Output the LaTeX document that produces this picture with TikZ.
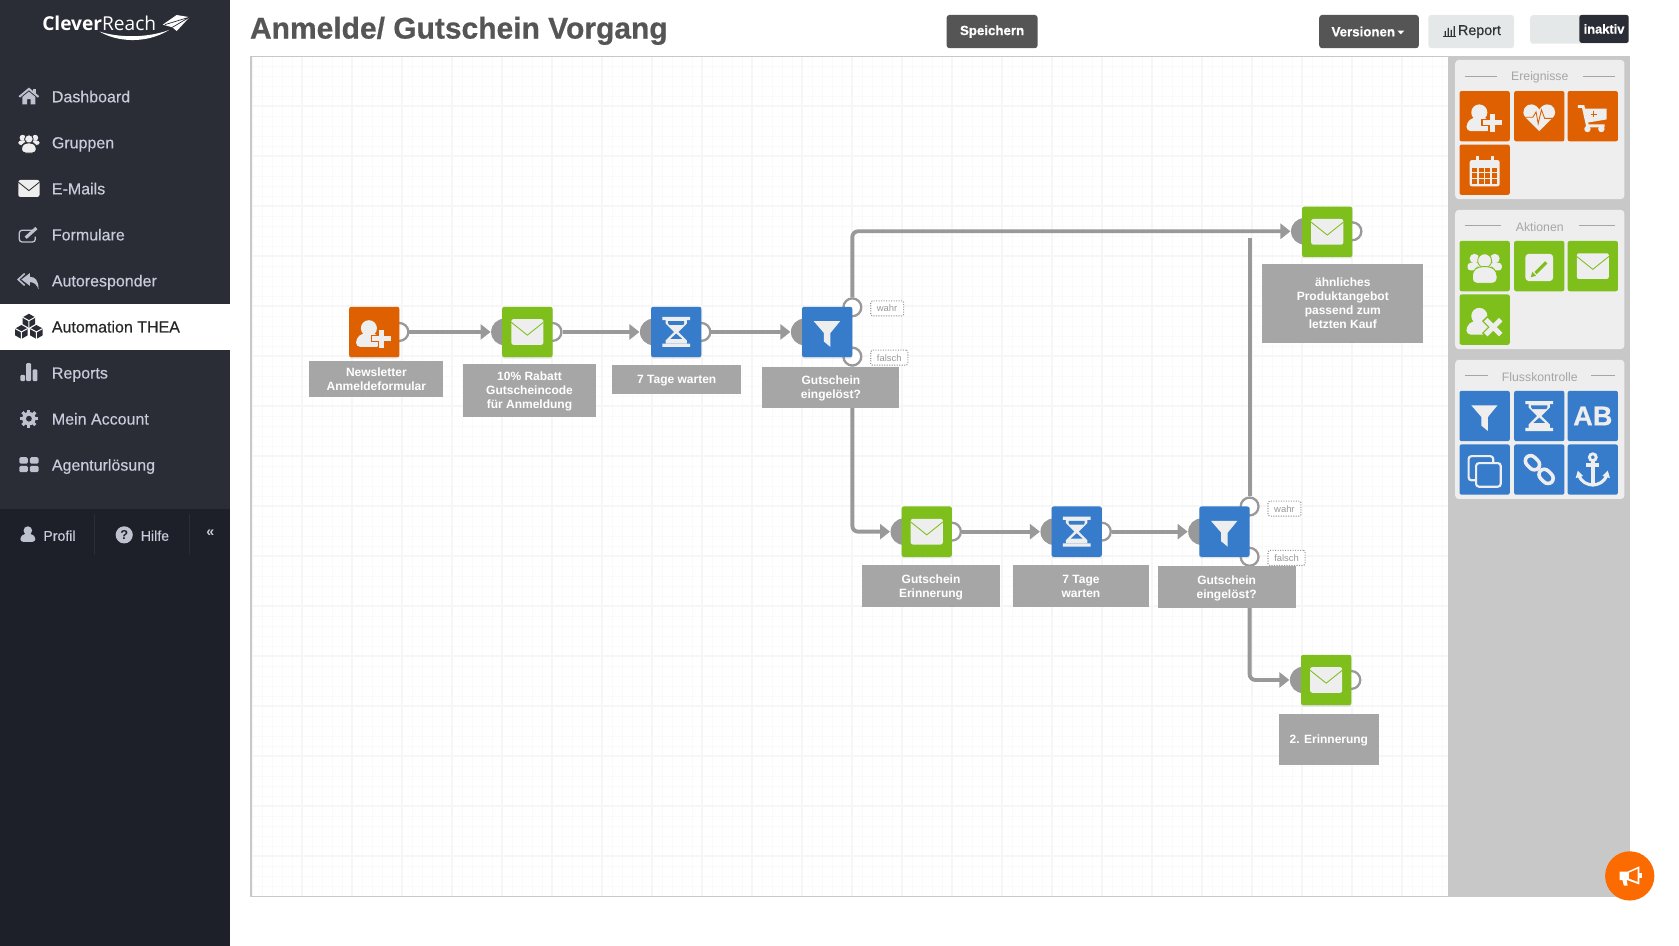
\documentclass[tikz,border=0pt]{standalone}
\usepackage{fontspec}
\setmainfont{Liberation Sans}
\newfontfamily\logofont{Open Sans}
\newfontfamily\menufont[FakeBold=0.35]{Liberation Sans}
\newfontfamily\heavyfont[FakeBold=0.6,UprightFont=* Bold]{Liberation Sans}
\usetikzlibrary{arrows.meta,shadows}

\definecolor{tileOrange}{RGB}{222,96,0}
\definecolor{bubbleOrange}{RGB}{251,107,0}
\definecolor{tileGreen}{RGB}{126,191,27}
\definecolor{tileBlue}{RGB}{55,124,203}
\definecolor{iconWhite}{RGB}{238,238,238}
\definecolor{sideDark}{RGB}{42,45,53}
\definecolor{sideDarker}{RGB}{30,32,41}
\definecolor{menuText}{RGB}{200,204,218}
\definecolor{menuIcon}{RGB}{190,194,206}
\definecolor{flowGrey}{RGB}{153,153,153}
\definecolor{labelGrey}{RGB}{166,166,166}
\definecolor{panelGrey}{RGB}{200,200,200}
\definecolor{buttonDark}{RGB}{85,85,85}
\definecolor{buttonLight}{RGB}{228,232,232}

\tikzset{every picture/.style={line width=0.75pt}}
\tikzset{
  every pic/.style={yscale=-1},
  tile/.style={rectangle,rounded corners=1.5pt,minimum size=35.25pt,inner sep=0pt},
  flowtile/.style={tile,drop shadow={shadow xshift=0pt,shadow yshift=-1pt,opacity=0.2}},
  labelbox/.style 2 args={rectangle,fill=labelGrey,text=white,align=center,inner sep=0pt,
    minimum width=#1*0.75pt,minimum height=#2*0.75pt,text depth=0pt,
    font=\fontsize{8.4}{9.8}\selectfont\bfseries},
  inport/.style={circle,fill=flowGrey,minimum size=18.5pt,inner sep=0pt},
  outport/.style={circle,draw=flowGrey,line width=1.6pt,fill=white,minimum size=12.5pt,inner sep=0pt},
  flow/.style={draw=flowGrey,line width=2.7pt,rounded corners=4pt},
  flowtip/.style={-{Triangle[length=7pt,width=10.5pt]}},
  tag/.style={rectangle,draw=flowGrey,densely dotted,rounded corners=1pt,fill=white,text=flowGrey,
    inner sep=0pt,minimum height=10.5pt,font=\fontsize{6.6}{8}\selectfont},
  menuitem/.style={anchor=base west,inner sep=0pt,text=menuText,font=\menufont\fontsize{11.2}{13}\selectfont},
  button/.style={rectangle,rounded corners=2pt,inner sep=0pt,minimum height=23.25pt,font=\heavyfont\fontsize{9.3}{11}\selectfont},
  paneltitle/.style={inner sep=0pt,text=labelGrey,font=\fontsize{8.6}{10}\selectfont},
  panelrule/.style={draw=labelGrey,line width=0.7pt},
}
\tikzset{
  mailicon/.pic={
    \fill[iconWhite,rounded corners=1.5pt] (-15,-12) rectangle (15,12);
    \draw[#1,line width=0.6pt] (-15,-9) -- (0,3) -- (15,-9);
  },
  useradd/.pic={
    \fill[iconWhite] (-5,-3.5) circle (7.5);
    \fill[iconWhite,rounded corners=3pt] (-17,14) -- (-17,6) -- (-11,1) -- (1,1) -- (6,6) -- (6,14) -- cycle;
    \draw[#1,line width=5.2pt] (-3,6) -- (16,6) (7,-3) -- (7,15);
    \draw[iconWhite,line width=3.6pt] (-2,6) -- (16,6) (7,-2) -- (7,15);
  },
  userdel/.pic={
    \fill[iconWhite] (-5,-3.5) circle (7.5);
    \fill[iconWhite,rounded corners=3pt] (-17,14) -- (-17,6) -- (-11,1) -- (1,1) -- (6,6) -- (6,14) -- cycle;
    \draw[#1,line width=5.2pt] (0,-1) -- (16,15) (16,-1) -- (0,15);
    \draw[iconWhite,line width=3.4pt] (1,0) -- (15,14) (15,0) -- (1,14);
  },
  hearticon/.pic={
    \fill[iconWhite] (0,14) -- (-13,1) .. controls (-18,-5) and (-12,-12) .. (-7,-11) .. controls (-4,-11) and (-1,-8) .. (0,-6) .. controls (1,-8) and (4,-11) .. (7,-11) .. controls (12,-12) and (18,-5) .. (13,1) -- cycle;
    \draw[#1,line width=0.6pt] (-15,1) -- (-6,1) -- (-3,-4) -- (-1,7) -- (2,-6) -- (5,2) -- (15,2);
  },
  carticon/.pic={
    \fill[iconWhite] (-9,-7) -- (13,-7) -- (13,3) -- (-5,6) -- cycle;
    \draw[iconWhite,line width=2pt] (-14,-9) -- (-9,-9) -- (-5,9) -- (11,9);
    \fill[iconWhite] (-5,12) circle (3) (8,12) circle (3);
    \draw[#1,line width=0.7pt] (-2,-2) -- (4,-2) (1,-5) -- (1,1);
  },
  calicon/.pic={
    \fill[iconWhite,rounded corners=1.5pt] (-14,-9) rectangle (14,15.5);
    \draw[iconWhite,line width=2pt] (-7,-12.5) -- (-7,-7) (7,-12.5) -- (7,-7);
    \foreach \cx in {-11.5,-5.5,0.5,6.5}
      \foreach \cy in {-2,3.5,9}
        \fill[#1] (\cx,\cy) rectangle ++(4.6,4.2);
  },
  groupicon/.pic={
    \fill[iconWhite] (-9.5,-7) circle (4.5) (9.5,-7) circle (4.5);
    \fill[iconWhite,rounded corners=2pt] (-16,4) -- (-16,-3) -- (16,-3) -- (16,4) -- cycle;
    \draw[#1,line width=0.6pt,fill=iconWhite] (0,-5) circle (6.5);
    \draw[#1,line width=0.6pt,fill=iconWhite,rounded corners=3pt] (-11.5,16) -- (-11.5,5) -- (-6,0.5) -- (6,0.5) -- (11.5,5) -- (11.5,16) -- cycle;
  },
  editicon/.pic={
    \fill[iconWhite,rounded corners=2.5pt] (-13,-11.5) rectangle (13,14);
    \draw[#1,line width=2.2pt] (-3.5,6.5) -- (6.5,-3.5);
    \fill[#1] (-8,10.5) -- (-6.5,5.5) -- (-3,9) -- cycle;
  },
  filtericon/.pic={
    \fill[iconWhite] (-12.5,-10) -- (12,-10) -- (3,1) -- (3,14) -- (-3,9) -- (-3,1) -- cycle;
  },
  houricon/.pic={
    \fill[iconWhite] (-13,-14) rectangle (13,-11) (-13,11) rectangle (13,14);
    \fill[iconWhite] (-10,-11) -- (10,-11) -- (10,-8) -- (2,0) -- (10,8) -- (10,11) -- (-10,11) -- (-10,8) -- (-2,0) -- (-10,-8) -- cycle;
    \fill[#1] (-7.5,-10) -- (7.5,-10) -- (7.5,-8) -- (6.5,-6.5) -- (-6.5,-6.5) -- (-7.5,-8) -- cycle;
    \fill[#1] (0,1.5) -- (-5.5,6.5) -- (5.5,6.5) -- cycle;
  },
  copyicon/.pic={
    \draw[iconWhite,line width=1.5pt,rounded corners=2pt] (-15,-12.5) rectangle (8,10);
    \draw[iconWhite,line width=1.5pt,rounded corners=2pt,fill=#1] (-8,-6) rectangle (15,16);
  },
  linkicon/.pic={
    \draw[iconWhite,line width=2.5pt,rounded corners=4pt,rotate=45] (-16.5,-5) rectangle (-1.5,5);
    \draw[iconWhite,line width=2.5pt,rounded corners=4pt,rotate=45] (1.5,-5) rectangle (16.5,5);
  },
  anchoricon/.pic={
    \draw[iconWhite,line width=2pt] (0,-11.5) circle (3.2);
    \draw[iconWhite,line width=2.6pt] (0,-8) -- (0,14) (-6,-4) -- (6,-4);
    \draw[iconWhite,line width=2.2pt] (-13,5) .. controls (-11,12) and (-5,14) .. (0,14.5) .. controls (5,14) and (11,12) .. (13,5);
    \fill[iconWhite] (-16,8) -- (-14,1) -- (-9,6) -- cycle (16,8) -- (14,1) -- (9,6) -- cycle;
  },
  homeicon/.pic={
    \draw[menuIcon,line width=1.4pt] (-9,0.5) -- (0,-7) -- (9,0.5);
    \fill[menuIcon] (-6,0.5) -- (0,-4.5) -- (6,0.5) -- (6,7.5) -- (1.7,7.5) -- (1.7,2.5) -- (-1.7,2.5) -- (-1.7,7.5) -- (-6,7.5) -- cycle;
    \fill[menuIcon] (4,-7) rectangle (6.5,-3);
  },
  editmenu/.pic={
    \draw[menuIcon,line width=0.9pt,rounded corners=2pt] (4,-4) -- (-9,-4) -- (-9,7) -- (6,7) -- (6,2);
    \draw[menuIcon,line width=2.2pt] (-3,3) -- (7,-6);
  },
  replyicon/.pic={
    \draw[menuIcon,line width=1.1pt] (-4,-6.5) -- (-10,-1) -- (-4,4.5);
    \fill[menuIcon] (-7,-1) -- (1,-7) -- (1,-3.5) .. controls (6,-3.5) and (9,0) .. (9,8) .. controls (7,3) and (4,1.5) .. (1,1.5) -- (1,5) -- cycle;
  },
  cubeone/.pic={
    \fill[sideDark] (0,-6.5) -- (5.8,-3.2) -- (5.8,3.2) -- (0,6.5) -- (-5.8,3.2) -- (-5.8,-3.2) -- cycle;
    \draw[white,line width=0.7pt] (-5.8,-3.2) -- (0,0) -- (5.8,-3.2) (0,0) -- (0,6.5);
  },
  cubesicon/.pic={
    \pic at (0,-5.5) {cubeone};
    \pic at (-7,5) {cubeone};
    \pic at (7,5) {cubeone};
  },
  barsicon/.pic={
    \fill[menuIcon,rounded corners=0.8pt] (-8,2) rectangle (-3.5,8) (-2.5,-9) rectangle (2,8) (3.5,-3) rectangle (8,8);
  },
  cogicon/.pic={
    \foreach \ang in {0,45,90,135,180,225,270,315}
      \draw[menuIcon,line width=2.2pt] (0,0) -- (\ang:8.5);
    \fill[menuIcon] (0,0) circle (6.3);
    \fill[sideDark] (0,0) circle (2.7);
  },
  thicon/.pic={
    \fill[menuIcon,rounded corners=1pt] (-9,-7) rectangle (-1,-1) (1,-7) rectangle (9,-1) (-9,1) rectangle (-1,7) (1,1) rectangle (9,7);
  },
  profilicon/.pic={
    \fill[menuIcon] (0,-3.5) circle (4);
    \fill[menuIcon,rounded corners=2pt] (-7,7) -- (-7,2) -- (-3,-0.5) -- (3,-0.5) -- (7,2) -- (7,7) -- cycle;
  },
  megaphone/.pic={
    \fill[white] (-9.5,-4) -- (-2,-4) -- (9,-9) -- (9,8) -- (-2,4) -- (-9.5,4) -- cycle;
    \fill[white] (-7,3) -- (-3,3) -- (-2,9) -- (-5.5,9) -- cycle;
    \fill[#1] (-0.5,-3) -- (7.3,-6.5) -- (7.3,5.5) -- (-0.5,2.5) -- cycle;
    \fill[white] (9,-2.5) rectangle (11,1.5);
  },
}

\begin{document}
\begin{tikzpicture}[x=0.75pt,y=0.75pt,yscale=-1,xscale=1]
\useasboundingbox (0,0) rectangle (1568,883);
\fill[white] (0,0) rectangle (1568,883);

%Shape: Sidebar
\fill[sideDark] (0,0) rectangle (215,475);
\fill[sideDarker] (0,475) rectangle (215,883);
\fill[white] (0,284) rectangle (215,327);
\draw[sideDark] (88,480) -- (88,518);
\draw[sideDark] (177,480) -- (177,518);

%Shape: Logo
\draw (39,22) node (logoText) [anchor=west,inner sep=0pt,text=white,font=\logofont\fontsize{13.4}{15}\selectfont] {\textbf{Clever}Reach};
\fill[white] (93,29.5) .. controls (108,38.5) and (135,42) .. (158,28) .. controls (136,36) and (110,35) .. (93,29.5) -- cycle;
\fill[white] (152,23) -- (165,14) -- (177,16) -- (165,29) -- (161,25.5) -- cycle;
\draw[sideDark,line width=0.5pt] (154,23) -- (177,16) -- (161,25.5);

%Shape: Menu icons
\path (27,90) pic {homeicon};
\path (27,133) pic[scale=0.62] {groupicon=sideDark};
\path (27,176) pic[scale=0.66] {mailicon=sideDark};
\path (27,219) pic {editmenu};
\path (27,262) pic {replyicon};
\path (27,305) pic {cubesicon};
\path (27,348) pic {barsicon};
\path (27,391) pic {cogicon};
\path (27,434) pic {thicon};
\path (26,499) pic {profilicon};

% Text Node
\draw (48,95.5) node (menuDashboard) [menuitem] {Dashboard};
% Text Node
\draw (48,138.5) node (menuGruppen) [menuitem] {Gruppen};
% Text Node
\draw (48,181.5) node (menuMails) [menuitem] {E-Mails};
% Text Node
\draw (48,224.5) node (menuFormulare) [menuitem] {Formulare};
% Text Node
\draw (48,267.5) node (menuAutoresponder) [menuitem] {Autoresponder};
% Text Node
\draw (48,310.5) node (menuAutomation) [menuitem,text=black!85] {Automation THEA};
% Text Node
\draw (48,353.5) node (menuReports) [menuitem] {Reports};
% Text Node
\draw (48,396.5) node (menuAccount) [menuitem] {Mein Account};
% Text Node
\draw (48,439.5) node (menuAgentur) [menuitem] {Agenturlösung};
% Text Node
\draw (40,505) node (menuProfil) [menuitem,font=\menufont\fontsize{9.9}{12}\selectfont] {Profil};
% Text Node
\draw (116,499.5) node (helpDot) [circle,fill=menuIcon,minimum size=12pt,inner sep=0pt,text=sideDarker,font=\fontsize{9}{10}\selectfont\bfseries] {?};
% Text Node
\draw (131,505) node (menuHilfe) [menuitem,font=\menufont\fontsize{9.9}{12}\selectfont] {Hilfe};
% Text Node
\draw (196.5,498) node (menuCollapse) [inner sep=0pt,text=menuText,font=\fontsize{10}{12}\selectfont\bfseries] {«};

% Text Node
\draw (233,36) node (pageTitle) [anchor=base west,inner sep=0pt,text=buttonDark,font=\heavyfont\fontsize{21}{24}\selectfont] {Anmelde/ Gutschein Vorgang};

%Shape: Top buttons
\draw (926.5,29.5) node (saveButton) [button,fill=buttonDark,text=white,minimum width=63.75pt] {Speichern};
\draw (1278.5,29.5) node (versionButton) [button,fill=buttonDark,text=white,minimum width=69.75pt] {Versionen\kern8pt};
\fill[white] (1305,28.5) -- (1311.5,28.5) -- (1308.2,32) -- cycle;
\draw (1374,29.5) node (reportButton) [button,fill=buttonLight,text=black!80,minimum width=60pt,font=\menufont\fontsize{10}{12}\selectfont] {\hspace{11.5pt}Report};
\draw[black!80,line width=0.6pt] (1348,34) -- (1360,34);
\fill[black!80] (1349,29) rectangle (1350.3,33.4) (1351.8,26) rectangle (1353.1,33.4) (1354.6,28) rectangle (1355.9,33.4) (1357.4,24.5) rectangle (1358.7,33.4);
\draw (1475,27.5) node (toggleBase) [rectangle,fill=buttonLight,rounded corners=2pt,inner sep=0pt,minimum width=69pt,minimum height=20pt] {};
\draw (1498,27) node (inactiveFlag) [rectangle,fill=sideDark,rounded corners=1.5pt,inner sep=0pt,minimum width=34.5pt,minimum height=19.5pt,text=white,font=\heavyfont\fontsize{9}{11}\selectfont] {inaktiv};

%Shape: Canvas with grid
\begin{scope}[shift={(282,99)}]
\draw[black!2,line width=0.6pt,step=7.005pt] (-47,-46) grid (1070,738);
\draw[black!3.5,line width=1pt,step=35.025pt] (-47,-46) grid (1070,738);
\end{scope}
\fill[panelGrey] (1352,52) rectangle (1522,837);
\draw[panelGrey,line width=1pt] (234.5,52.5) rectangle (1522,837);

%Shape: Palette panels
\fill[iconWhite,rounded corners=2.5pt] (1359,56) rectangle (1517,186);
\fill[iconWhite,rounded corners=2.5pt] (1359,196) rectangle (1517,326);
\fill[iconWhite,rounded corners=2.5pt] (1359,336) rectangle (1517,466);
\draw[panelrule] (1368,71) -- (1398,71);
\draw[panelrule] (1478,71) -- (1508,71);
\draw[panelrule] (1368,211) -- (1402,211);
\draw[panelrule] (1475,211) -- (1508,211);
\draw[panelrule] (1368,351) -- (1390,351);
\draw[panelrule] (1486,351) -- (1508,351);
% Text Node
\draw (1438,72.5) node (titleEreignisse) [paneltitle] {Ereignisse};
% Text Node
\draw (1438,212) node (titleAktionen) [paneltitle] {Aktionen};
% Text Node
\draw (1438,352) node (titleFluss) [paneltitle] {Flusskontrolle};

%Shape: Palette tiles
\draw (1386.5,108.5) node (palSignup) [tile,fill=tileOrange] {} pic {useradd=tileOrange};
\draw (1437.5,108.5) node (palHeart) [tile,fill=tileOrange] {} pic {hearticon=tileOrange};
\draw (1487.5,108.5) node (palCart) [tile,fill=tileOrange] {} pic {carticon=tileOrange};
\draw (1386.5,158.5) node (palDate) [tile,fill=tileOrange] {} pic {calicon=tileOrange};
\draw (1386.5,248.5) node (palGroup) [tile,fill=tileGreen] {} pic {groupicon=tileGreen};
\draw (1437.5,248.5) node (palEdit) [tile,fill=tileGreen] {} pic {editicon=tileGreen};
\draw (1487.5,248.5) node (palMail) [tile,fill=tileGreen] {} pic {mailicon=tileGreen};
\draw (1386.5,298.5) node (palRemove) [tile,fill=tileGreen] {} pic {userdel=tileGreen};
\draw (1386.5,388.5) node (palFilter) [tile,fill=tileBlue] {} pic {filtericon=tileBlue};
\draw (1437.5,388.5) node (palWait) [tile,fill=tileBlue] {} pic {houricon=tileBlue};
\draw (1487.5,388.5) node (palSplit) [tile,fill=tileBlue,text=iconWhite,font=\heavyfont\fontsize{19}{20}\selectfont] {AB};
\draw (1386.5,438.5) node (palCopy) [tile,fill=tileBlue] {} pic {copyicon=tileBlue};
\draw (1437.5,438.5) node (palLink) [tile,fill=tileBlue] {} pic {linkicon=tileBlue};
\draw (1487.5,438.5) node (palAnchor) [tile,fill=tileBlue] {} pic {anchoricon=tileBlue};

%Shape: Ports of the flow
\draw (373,310) node (signupOut) [outport] {};
\draw (471,310) node (couponIn) [inport] {};
\draw (516,310) node (couponOut) [outport] {};
\draw (610,310) node (waitIn) [inport] {};
\draw (655,310) node (waitOut) [outport] {};
\draw (751,310) node (checkIn) [inport] {};
\draw (796,287) node (checkYes) [outport] {};
\draw (796,333) node (checkNo) [outport] {};
\draw (1218,216) node (offerIn) [inport] {};
\draw (1263,216) node (offerOut) [outport] {};
\draw (844,496.5) node (remindIn) [inport] {};
\draw (889,496.5) node (remindOut) [outport] {};
\draw (984,496.5) node (waitTwoIn) [inport] {};
\draw (1029,496.5) node (waitTwoOut) [outport] {};
\draw (1122,496.5) node (checkTwoIn) [inport] {};
\draw (1167,473) node (checkTwoYes) [outport] {};
\draw (1167,520) node (checkTwoNo) [outport] {};
\draw (1217,635) node (lastIn) [inport] {};
\draw (1262,635) node (lastOut) [outport] {};
\coordinate (offerJoin) at (1167,222);

%Straight Lines
\draw [flow,flowtip] (signupOut) -- (couponIn);
\draw [flow,flowtip] (couponOut) -- (waitIn);
\draw [flow,flowtip] (waitOut) -- (checkIn);
\draw [flow,flowtip] (checkYes) |- (offerIn);
\draw [flow,flowtip] (checkNo) |- (remindIn);
\draw [flow,flowtip] (remindOut) -- (waitTwoIn);
\draw [flow,flowtip] (waitTwoOut) -- (checkTwoIn);
\draw [flow] (checkTwoYes) -- (offerJoin);
\draw [flow,flowtip] (checkTwoNo) |- (lastIn);

%Shape: Flow tiles
\draw (349.5,310) node (signupTile) [flowtile,fill=tileOrange] {} pic {useradd=tileOrange};
\draw (492.5,310) node (couponTile) [flowtile,fill=tileGreen] {} pic {mailicon=tileGreen};
\draw (631.5,310) node (waitTile) [flowtile,fill=tileBlue] {} pic {houricon=tileBlue};
\draw (772.5,310) node (checkTile) [flowtile,fill=tileBlue] {} pic {filtericon=tileBlue};
\draw (1239.5,216.5) node (offerTile) [flowtile,fill=tileGreen] {} pic {mailicon=tileGreen};
\draw (865.5,496.5) node (remindTile) [flowtile,fill=tileGreen] {} pic {mailicon=tileGreen};
\draw (1005.5,496.5) node (waitTwoTile) [flowtile,fill=tileBlue] {} pic {houricon=tileBlue};
\draw (1143.5,496.5) node (checkTwoTile) [flowtile,fill=tileBlue] {} pic {filtericon=tileBlue};
\draw (1238.5,635) node (lastTile) [flowtile,fill=tileGreen] {} pic {mailicon=tileGreen};

% Text Node
\draw (351.5,354) node (signupLabel) [labelbox={125}{34}] {Newsletter\\Anmeldeformular};
% Text Node
\draw (494.5,364.5) node (couponLabel) [labelbox={125}{49}] {10\% Rabatt\\Gutscheincode\\für Anmeldung};
% Text Node
\draw (632,354.5) node (waitLabel) [labelbox={120}{27}] {7 Tage warten};
% Text Node
\draw (776,362) node (checkLabel) [labelbox={128}{38}] {Gutschein\\eingelöst?};
% Text Node
\draw (1254,283.5) node (offerLabel) [labelbox={150}{73}] {ähnliches\\Produktangebot\\passend zum\\letzten Kauf};
% Text Node
\draw (869.5,547.5) node (remindLabel) [labelbox={129}{39}] {Gutschein\\Erinnerung};
% Text Node
\draw (1009.5,547.5) node (waitTwoLabel) [labelbox={127}{39}] {7 Tage\\warten};
% Text Node
\draw (1145.5,548.5) node (checkTwoLabel) [labelbox={129}{39}] {Gutschein\\eingelöst?};
% Text Node
\draw (1241,690.5) node (lastLabel) [labelbox={94}{47}] {2. Erinnerung};

% Text Node
\draw (828.5,288) node (yesTag) [tag,minimum width=23pt] {wahr};
% Text Node
\draw (830.5,334) node (noTag) [tag,minimum width=26pt] {falsch};
% Text Node
\draw (1199.5,475) node (yesTwoTag) [tag,minimum width=23pt] {wahr};
% Text Node
\draw (1201.5,521) node (noTwoTag) [tag,minimum width=26pt] {falsch};

%Shape: Feedback bubble
\draw (1522,818) node (feedbackBubble) [circle,fill=bubbleOrange,minimum size=34.5pt,inner sep=0pt] {} pic {megaphone=bubbleOrange};

\end{tikzpicture}
\end{document}
